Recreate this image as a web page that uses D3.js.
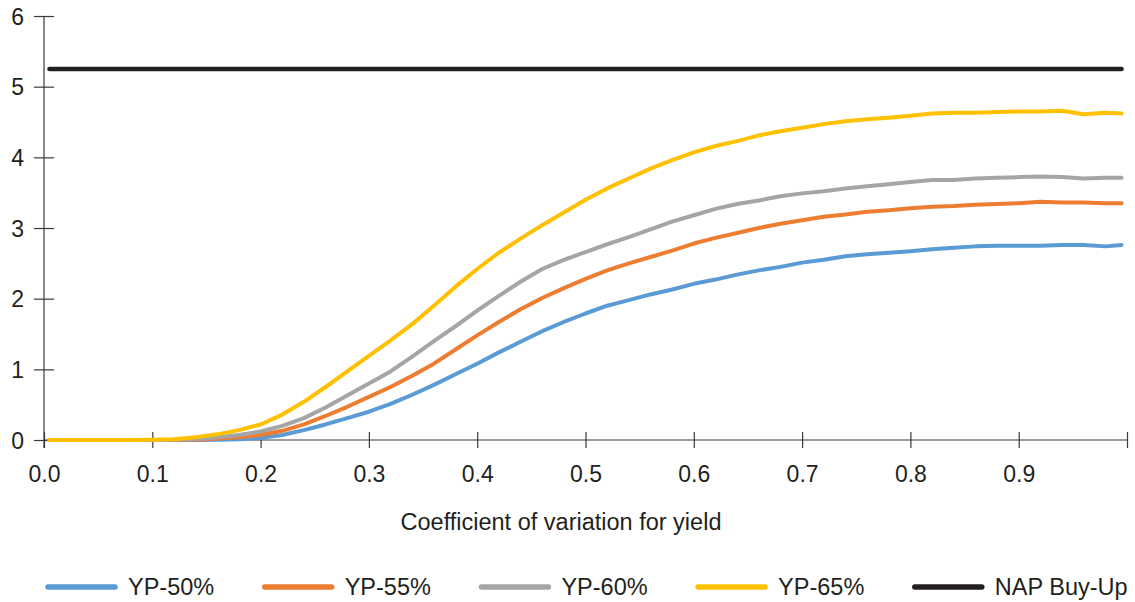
<!DOCTYPE html>
<html><head><meta charset="utf-8">
<script src="https://cdn.jsdelivr.net/npm/d3@7"></script>
<style>
html,body{margin:0;padding:0;background:#fff;}
svg text{font-family:"Liberation Sans",Arial,sans-serif;fill:#231f20;}
</style></head>
<body><svg id="chart" width="1135" height="602"></svg>
<script>
const cv = [0.005,0.02,0.04,0.06,0.08,0.10,0.12,0.14,0.16,0.18,0.20,0.22,0.24,0.26,0.28,0.30,0.32,0.34,0.36,0.38,0.40,0.42,0.44,0.46,0.48,0.50,0.52,0.54,0.56,0.58,0.60,0.62,0.64,0.66,0.68,0.70,0.72,0.74,0.76,0.78,0.80,0.82,0.84,0.86,0.88,0.90,0.92,0.94,0.96,0.98,0.995];
const yp50 = [0,0,0,0,0,0,0,0,0.003,0.01,0.03,0.07,0.14,0.22,0.31,0.40,0.51,0.64,0.78,0.93,1.08,1.24,1.39,1.54,1.67,1.79,1.90,1.98,2.06,2.13,2.21,2.27,2.34,2.40,2.45,2.51,2.55,2.60,2.63,2.65,2.67,2.70,2.72,2.74,2.75,2.75,2.75,2.76,2.76,2.74,2.76];
const yp55 = [0,0,0,0,0,0,0,0.005,0.02,0.04,0.07,0.13,0.22,0.34,0.47,0.61,0.75,0.91,1.08,1.28,1.48,1.67,1.85,2.01,2.15,2.28,2.40,2.50,2.59,2.68,2.78,2.86,2.93,3.00,3.06,3.11,3.16,3.19,3.23,3.25,3.28,3.30,3.31,3.33,3.34,3.35,3.37,3.36,3.36,3.35,3.35];
const yp60 = [0,0,0,0,0,0,0.003,0.015,0.04,0.07,0.12,0.20,0.31,0.46,0.63,0.80,0.97,1.18,1.40,1.61,1.83,2.04,2.24,2.42,2.55,2.66,2.77,2.87,2.98,3.09,3.18,3.27,3.34,3.39,3.45,3.49,3.52,3.56,3.59,3.62,3.65,3.68,3.68,3.70,3.71,3.72,3.73,3.72,3.70,3.71,3.71];
const yp65 = [0,0,0,0,0,0.002,0.01,0.04,0.08,0.14,0.22,0.36,0.54,0.75,0.97,1.19,1.41,1.64,1.90,2.17,2.42,2.65,2.85,3.04,3.22,3.40,3.56,3.70,3.84,3.96,4.07,4.16,4.23,4.31,4.37,4.42,4.47,4.51,4.54,4.56,4.59,4.62,4.63,4.63,4.64,4.65,4.65,4.66,4.61,4.63,4.62];
const napBuyUp = 5.25;
const seriesNames = ["YP-50%","YP-55%","YP-60%","YP-65%","NAP Buy-Up"];
const seriesColors = ["#5b9bd5","#ed7d31","#a5a5a5","#ffc000","#231f20"];
const xTicks = [0,0.1,0.2,0.3,0.4,0.5,0.6,0.7,0.8,0.9,1.0];
const yTicks = [0,1,2,3,4,5,6];
const xTitle = "Coefficient of variation for yield";

const svg = d3.select("#chart");
const x = d3.scaleLinear().domain([0,1]).range([44,1127]);
const y = d3.scaleLinear().domain([0,6]).range([440,16]);

// axes
const axisColor = "#3a3a3a";
const yAxis = svg.append("g").attr("transform","translate(44,0)")
  .call(d3.axisLeft(y).tickValues(yTicks).tickSize(10).tickPadding(10).tickFormat(d3.format("d")));
yAxis.select(".domain").remove();
yAxis.append("line").attr("y1",y(6)).attr("y2",448).attr("stroke",axisColor).attr("stroke-width",1.2);
yAxis.selectAll(".tick line").attr("x1",-10).attr("x2",10).attr("stroke",axisColor).attr("stroke-width",1.2);
yAxis.selectAll(".tick text").attr("font-size",23).attr("x",-20).attr("dy","0.35em");

const xAxis = svg.append("g").attr("transform","translate(0,440)")
  .call(d3.axisBottom(x).tickValues(xTicks).tickSize(8).tickPadding(18).tickFormat(d => d < 0.95 ? d3.format(".1f")(d) : ""));
xAxis.select(".domain").remove();
xAxis.append("line").attr("x1",x(0)).attr("x2",x(1)).attr("stroke",axisColor).attr("stroke-width",1.2);
xAxis.selectAll(".tick line").attr("y1",-8).attr("y2",8).attr("stroke",axisColor).attr("stroke-width",1.2);
xAxis.selectAll(".tick text").attr("font-size",23);

svg.append("text").attr("x",561).attr("y",530).attr("text-anchor","middle").attr("font-size",23.5).text(xTitle);

// lines
const line = d3.line().x((d,i)=>x(cv[i])).y(d=>y(d));
const series = [yp50,yp55,yp60,yp65];
series.forEach((s,i)=>{
  svg.append("path").datum(s).attr("d",line).attr("fill","none")
    .attr("stroke",seriesColors[i]).attr("stroke-width",4).attr("stroke-linejoin","round").attr("stroke-linecap","round");
});
svg.append("path").datum(cv.map(()=>napBuyUp)).attr("d",line).attr("fill","none")
  .attr("stroke",seriesColors[4]).attr("stroke-width",4.5).attr("stroke-linecap","round");

// legend
const leg = svg.append("g");
seriesNames.forEach((n,i)=>{
  const lx = 48 + i*216.7;
  leg.append("line").attr("x1",lx).attr("x2",lx+67).attr("y1",587).attr("y2",587)
    .attr("stroke",seriesColors[i]).attr("stroke-width",5.5).attr("stroke-linecap","round");
  leg.append("text").attr("x",lx+80).attr("y",587).attr("dy","0.35em").attr("font-size",23.5).text(n);
});
</script></body></html>
